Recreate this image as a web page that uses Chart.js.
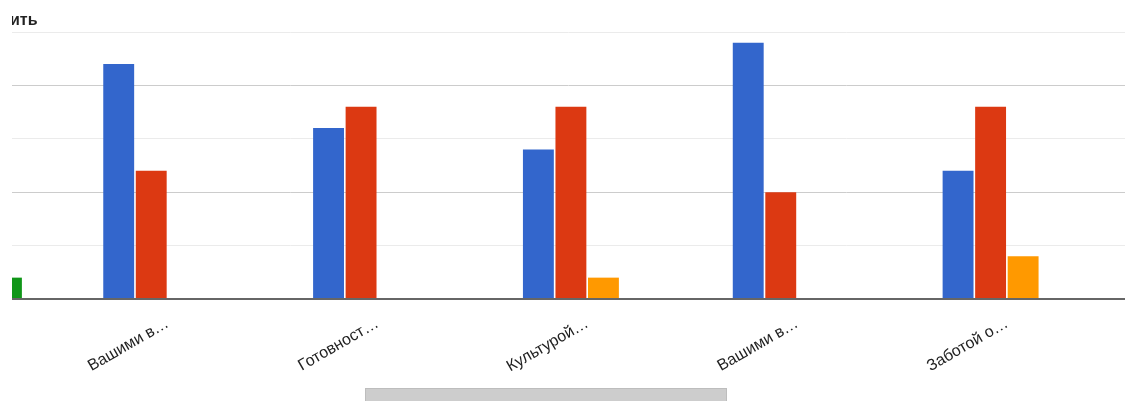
<!DOCTYPE html>
<html>
<head>
<meta charset="utf-8">
<script src="https://cdn.jsdelivr.net/npm/chart.js@4"></script>
<style>
  html, body { margin: 0; padding: 0; background: #fff; }
  .wrap { position: relative; width: 1125px; height: 401px; overflow: hidden; }
  .title { position: absolute; left: 12px; top: 11px; width: 60px; overflow: hidden; }
  .title span { display: block; margin-left: -2px; font: bold 16px "Liberation Sans", Arial, sans-serif; color: #222; }
  .thumb { position: absolute; left: 365px; top: 388px; width: 362px; height: 14px; background: #cdcdcd; border: 1px solid #bdbdbd; box-sizing: border-box; }
  canvas { position: absolute; left: 0; top: 0; }
</style>
</head>
<body>
<div class="wrap">
  <canvas id="chart" width="1125" height="401"></canvas>
  <div class="title"><span>ить</span></div>
  <div class="thumb"></div>
</div>
<script>
// group 0 is scrolled off to the left, only its green bar peeks in
const categories = ['', 'Вашими в…', 'Готовност…', 'Культурой…', 'Вашими в…', 'Заботой о…'];
const blueValues = [null, 11, 8, 7, 12, 6];
const redValues = [null, 6, 9, 9, 5, 9];
const orangeValues = [null, 0, 0, 1, 0, 2];
const greenValues = [1, 0, 0, 0, 0, 0];
const yTicks = [0, 2.5, 5, 7.5, 10, 12.5];

const toPoints = arr => arr.map((v, i) => ({ x: i, y: v }));

function series(values, color) {
  return {
    data: toPoints(values),
    backgroundColor: color,
    borderWidth: 0,
    clip: 0,
    categoryPercentage: 0.62,
    barPercentage: 0.95
  };
}

new Chart(document.getElementById('chart').getContext('2d'), {
  type: 'bar',
  data: {
    datasets: [
      series(blueValues, '#3366cc'),
      series(redValues, '#dc3912'),
      series(orangeValues, '#ff9900'),
      series(greenValues, '#109618')
    ]
  },
  options: {
    responsive: false,
    animation: false,
    layout: { padding: { top: 32, left: 0, right: 0, bottom: 0 } },
    plugins: { legend: { display: false }, tooltip: { enabled: false } },
    scales: {
      x: {
        type: 'linear',
        offset: false,
        min: 0.259,
        max: 5.563,
        grid: { display: false, drawTicks: false, offset: false },
        border: { display: false },
        afterBuildTicks: scale => {
          scale.ticks = [1, 2, 3, 4, 5].map(v => ({ value: v }));
        },
        afterFit: scale => { scale.height = 102; },
        ticks: {
          autoSkip: false,
          minRotation: 30,
          maxRotation: 30,
          padding: 15,
          color: '#222',
          font: { family: '"Liberation Sans", Arial, sans-serif', size: 16 },
          callback: v => categories[v]
        }
      },
      y: {
        min: 0,
        max: 12.5,
        afterBuildTicks: scale => {
          scale.ticks = yTicks.map(v => ({ value: v }));
        },
        afterFit: scale => { scale.width = 12; },
        border: { display: false },
        ticks: { display: false },
        grid: {
          drawTicks: false,
          color: ctx => ctx.tick.value === 0 ? '#666' : (ctx.tick.value % 5 === 0 ? '#cccccc' : '#ebebeb'),
          lineWidth: ctx => ctx.tick.value === 0 ? 2 : 1
        }
      }
    }
  }
});
</script>
</body>
</html>
